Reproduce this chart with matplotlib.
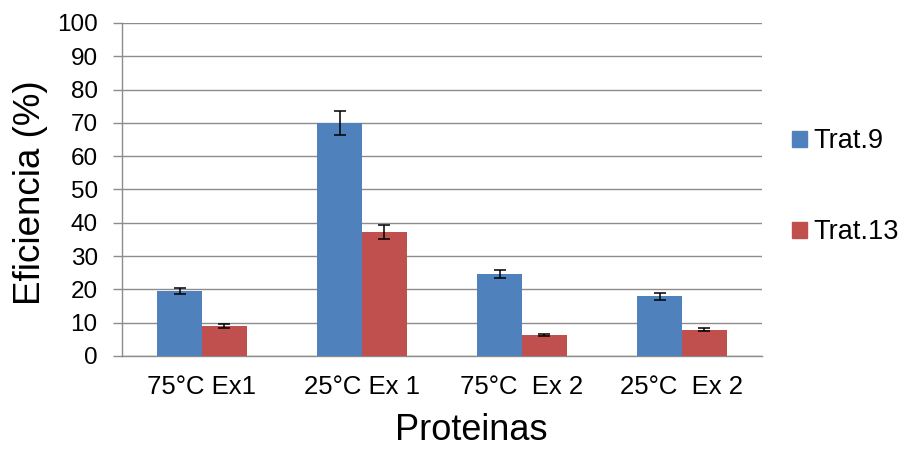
import numpy as np
import matplotlib.pyplot as plt
from matplotlib.patches import Patch

plt.rcParams['font.family'] = ['Liberation Sans', 'DejaVu Sans']

# data
categories = ['75°C Ex1', '25°C Ex 1', '75°C  Ex 2', '25°C  Ex 2']
trat9 = [19.5, 70.0, 24.6, 17.9]
trat9_err = [1.0, 3.6, 1.2, 1.1]
trat13 = [9.0, 37.3, 6.3, 7.9]
trat13_err = [0.5, 2.1, 0.4, 0.5]
series_names = ['Trat.9', 'Trat.13']

BLUE = '#4F81BD'
RED = '#C0504D'
GRID = '#8C8C8C'
BAR_W = 0.28

fig = plt.figure(figsize=(9.01, 4.5), dpi=100)
ax = fig.add_axes([0.1354, 0.2089, 0.7103, 0.74])

x = np.arange(len(categories))
err_kw = dict(ecolor='black', elinewidth=1.1, capsize=4.5, capthick=1.1)
ax.bar(x - BAR_W / 2, trat9, BAR_W, color=BLUE, yerr=trat9_err,
       error_kw=err_kw, zorder=3)
ax.bar(x + BAR_W / 2, trat13, BAR_W, color=RED, yerr=trat13_err,
       error_kw=err_kw, zorder=3)

ax.set_xlim(-0.5, len(categories) - 0.5)
ax.set_ylim(0, 100)
ax.set_yticks(np.arange(0, 101, 10))
ax.set_xticks(x)
ax.set_xticklabels(categories)

ax.yaxis.grid(True, color=GRID, linewidth=1.0, zorder=0)
ax.set_axisbelow(True)
for s in ['top', 'right']:
    ax.spines[s].set_visible(False)
for s in ['left', 'bottom']:
    ax.spines[s].set_color(GRID)
    ax.spines[s].set_linewidth(1.0)

ax.tick_params(axis='y', length=6.5, width=1.0, color=GRID, pad=11,
               labelsize=17.5, labelcolor='black')
ax.tick_params(axis='x', length=0, pad=14, labelsize=18.5, labelcolor='black')

# axis titles sit a bit off the axes centre, like the original chart
ax.set_ylabel('Eficiencia (%)', fontsize=26.5)
ax.yaxis.set_label_coords(-0.116, 0.49)
ax.set_xlabel('Proteinas', fontsize=26)
ax.xaxis.set_label_coords(0.545, -0.172)

handles = [Patch(color=BLUE), Patch(color=RED)]
fig.legend(handles, series_names, loc='center left',
           bbox_to_anchor=(0.879, 0.585), frameon=False, fontsize=19.5,
           handlelength=0.55, handleheight=0.55, handletextpad=0.25,
           labelspacing=2.4, borderpad=0, borderaxespad=0)

fig.savefig('out.png', dpi=100)
